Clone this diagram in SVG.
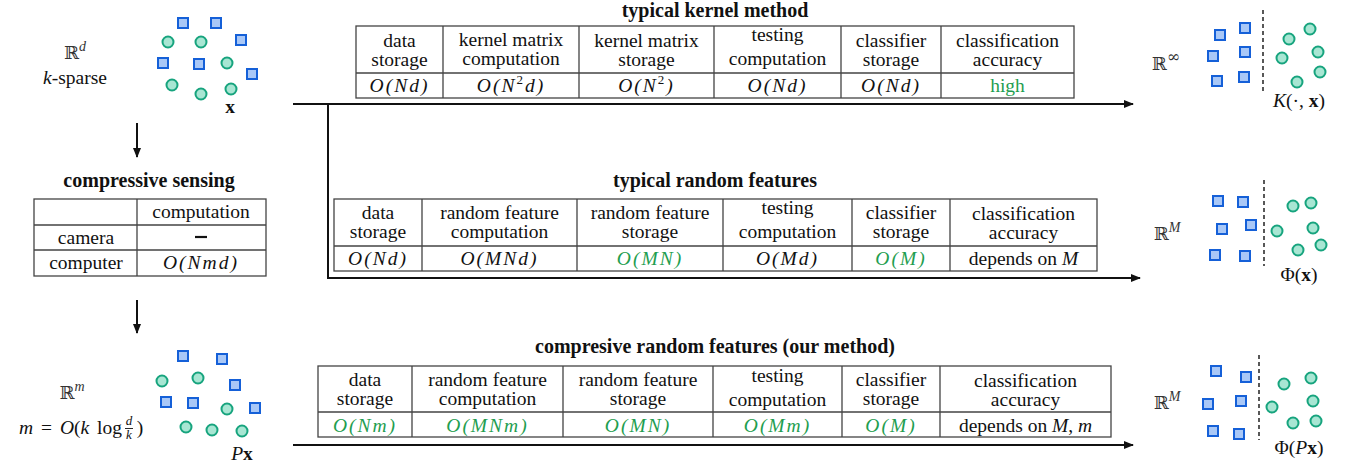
<svg xmlns="http://www.w3.org/2000/svg" width="1347" height="465" viewBox="0 0 1347 465">
<style>
text{font-family:"Liberation Serif","DejaVu Serif",serif;font-size:19.5px;fill:#111;text-anchor:middle}
.t{font-weight:bold;font-size:20px}
.m{font-style:italic;letter-spacing:2px}
.g{fill:#1f9e50}
.bb{font-family:"DejaVu Serif",serif;font-size:18px;fill:#333}
.sup{font-family:"Liberation Serif",serif;font-style:italic;font-size:14px}
.fr{font-size:13px;font-style:italic}
.grid{fill:none;stroke:#444;stroke-width:1.3}
.sq{fill:#a9c8f7;stroke:#1560d8;stroke-width:2}
.ci{fill:#a8e6d3;stroke:#17a47e;stroke-width:2}
.dash{stroke:#222;stroke-width:1.5;stroke-dasharray:4,3}
.ar{stroke:#111;stroke-width:2;fill:none}
</style>
<defs>
<marker id="ah" markerWidth="10" markerHeight="8" refX="9" refY="4" orient="auto" markerUnits="userSpaceOnUse">
<path d="M0,0 L10,4 L0,8 Z" fill="#111"/>
</marker>
<rect id="s" x="-5" y="-5" width="10" height="10" class="sq"/>
<circle id="c" r="5.5" class="ci"/>
</defs>

<g id="connectors">
<path class="ar" d="M293,104 H1133" marker-end="url(#ah)"/>
<path class="ar" d="M328,104 V278 H1140" marker-end="url(#ah)"/>
<path class="ar" d="M293,445 H1133" marker-end="url(#ah)"/>
<path class="ar" stroke-width="1.5" d="M137,123 V157" marker-end="url(#ah)"/>
<path class="ar" stroke-width="1.5" d="M137,300 V333" marker-end="url(#ah)"/>
</g>

<g id="input-space">
<text class="bb" x="75" y="59">ℝ<tspan class="sup" dy="-8">d</tspan></text>
<text x="75" y="84"><tspan font-style="italic">k</tspan>-sparse</text>
<use href="#s" x="183" y="23"/><use href="#s" x="216" y="23"/><use href="#s" x="241" y="40"/>
<use href="#s" x="163" y="63"/><use href="#s" x="199" y="64"/><use href="#s" x="252" y="74"/>
<use href="#c" x="168" y="42"/><use href="#c" x="201" y="42"/><use href="#c" x="227" y="63"/>
<use href="#c" x="172" y="85"/><use href="#c" x="201" y="94"/><use href="#c" x="231" y="89"/>
<text x="230" y="113" font-weight="bold">x</text>
</g>

<g id="compressive-sensing">
<text class="t" x="149" y="187">compressive sensing</text>
<rect class="grid" x="34" y="199" width="232" height="77"/>
<path class="grid" d="M137,199 V276 M34,225 H266 M34,250 H266"/>
<text x="201" y="218">computation</text>
<text x="86" y="244">camera</text>
<path d="M195,237 H207" stroke="#111" stroke-width="2.2"/>
<text x="86" y="269">computer</text>
<text x="201" y="269" class="m">O(Nmd)</text>
</g>

<g id="compressed-space">
<text class="bb" x="72" y="399">ℝ<tspan class="sup" dy="-8">m</tspan></text>
<text x="122" y="434" style="text-anchor:end;word-spacing:3px"><tspan font-style="italic">m</tspan> = <tspan font-style="italic">O</tspan>(<tspan font-style="italic">k</tspan> log</text>
<text class="fr" x="129" y="425">d<tspan x="129" dy="14">k</tspan></text>
<path d="M125,428.5 H133" stroke="#111" stroke-width="0.9"/>
<text x="140" y="434">)</text>
<use href="#s" x="183" y="356"/><use href="#s" x="222" y="359"/><use href="#s" x="235" y="385"/>
<use href="#s" x="166" y="402"/><use href="#s" x="193" y="403"/><use href="#s" x="255" y="408"/>
<use href="#c" x="162" y="381"/><use href="#c" x="198" y="378"/><use href="#c" x="227" y="409"/>
<use href="#c" x="186" y="427"/><use href="#c" x="212" y="430"/><use href="#c" x="242" y="431"/>
<text x="242" y="460"><tspan font-style="italic">P</tspan><tspan font-weight="bold">x</tspan></text>
</g>

<g id="kernel-table">
<text class="t" x="715" y="17">typical kernel method</text>
<rect class="grid" x="356" y="26" width="718" height="72"/>
<path class="grid" d="M356,73 H1074 M443,26 V98 M579,26 V98 M714,26 V98 M841,26 V98 M941,26 V98"/>
<text x="399.5" y="47">data<tspan x="399.5" dy="19">storage</tspan></text>
<text x="511" y="46">kernel matrix<tspan x="511" dy="19">computation</tspan></text>
<text x="646.5" y="47">kernel matrix<tspan x="646.5" dy="19">storage</tspan></text>
<text x="777.5" y="41">testing<tspan x="777.5" dy="24">computation</tspan></text>
<text x="891" y="47">classifier<tspan x="891" dy="19">storage</tspan></text>
<text x="1007.5" y="47">classification<tspan x="1007.5" dy="19">accuracy</tspan></text>
<text class="m" x="399.5" y="92">O(Nd)</text>
<text class="m" x="511" y="92">O(N<tspan font-size="13" dy="-8" font-style="normal">2</tspan><tspan dy="8">d)</tspan></text>
<text class="m" x="646.5" y="92">O(N<tspan font-size="13" dy="-8" font-style="normal">2</tspan><tspan dy="8">)</tspan></text>
<text class="m" x="777.5" y="92">O(Nd)</text>
<text class="m" x="891" y="92">O(Nd)</text>
<text class="g" x="1007.5" y="92">high</text>
</g>

<g id="rf-table">
<text class="t" x="715" y="187">typical random features</text>
<rect class="grid" x="334" y="199" width="763" height="72"/>
<path class="grid" d="M334,246 H1097 M422,199 V271 M577,199 V271 M723,199 V271 M852,199 V271 M950,199 V271"/>
<text x="378" y="219">data<tspan x="378" dy="19">storage</tspan></text>
<text x="499.5" y="219">random feature<tspan x="499.5" dy="19">computation</tspan></text>
<text x="650" y="219">random feature<tspan x="650" dy="19">storage</tspan></text>
<text x="787.5" y="214">testing<tspan x="787.5" dy="24">computation</tspan></text>
<text x="901" y="219">classifier<tspan x="901" dy="19">storage</tspan></text>
<text x="1023.5" y="220">classification<tspan x="1023.5" dy="19">accuracy</tspan></text>
<text class="m" x="378" y="265">O(Nd)</text>
<text class="m" x="499.5" y="265">O(MNd)</text>
<text class="m g" x="650" y="265">O(MN)</text>
<text class="m" x="787.5" y="265">O(Md)</text>
<text class="m g" x="901" y="265">O(M)</text>
<text x="1023.5" y="265">depends on <tspan font-style="italic">M</tspan></text>
</g>

<g id="crf-table">
<text class="t" x="715" y="353">compresive random features (our method)</text>
<rect class="grid" x="318" y="366" width="793" height="71"/>
<path class="grid" d="M318,412 H1111 M412,366 V437 M563,366 V437 M713,366 V437 M842,366 V437 M940,366 V437"/>
<text x="365" y="386">data<tspan x="365" dy="19">storage</tspan></text>
<text x="487.5" y="386">random feature<tspan x="487.5" dy="19">computation</tspan></text>
<text x="638" y="386">random feature<tspan x="638" dy="19">storage</tspan></text>
<text x="777.5" y="382">testing<tspan x="777.5" dy="24">computation</tspan></text>
<text x="891" y="386">classifier<tspan x="891" dy="19">storage</tspan></text>
<text x="1025.5" y="387">classification<tspan x="1025.5" dy="19">accuracy</tspan></text>
<text class="m g" x="365" y="432">O(Nm)</text>
<text class="m g" x="487.5" y="432">O(MNm)</text>
<text class="m g" x="638" y="432">O(MN)</text>
<text class="m g" x="777.5" y="432">O(Mm)</text>
<text class="m g" x="891" y="432">O(M)</text>
<text x="1025.5" y="432">depends on <tspan font-style="italic">M</tspan>, <tspan font-style="italic">m</tspan></text>
</g>

<g id="kernel-space">
<text class="bb" x="1166" y="70">ℝ<tspan font-size="16" dy="-8">∞</tspan></text>
<path class="dash" d="M1263,10 V92"/>
<use href="#s" x="1220" y="35"/><use href="#s" x="1245" y="28"/><use href="#s" x="1213" y="56"/>
<use href="#s" x="1245" y="52"/><use href="#s" x="1217" y="81"/><use href="#s" x="1244" y="77"/>
<use href="#c" x="1289" y="39"/><use href="#c" x="1310" y="29"/><use href="#c" x="1282" y="58"/>
<use href="#c" x="1318" y="52"/><use href="#c" x="1320" y="72"/><use href="#c" x="1297" y="82"/>
<text x="1299" y="107"><tspan font-style="italic">K</tspan>(·, <tspan font-weight="bold">x</tspan>)</text>
</g>

<g id="rf-space">
<text class="bb" x="1167" y="240">ℝ<tspan class="sup" dy="-8">M</tspan></text>
<path class="dash" d="M1264,180 V266"/>
<use href="#s" x="1218" y="201"/><use href="#s" x="1243" y="202"/><use href="#s" x="1222" y="229"/>
<use href="#s" x="1251" y="225"/><use href="#s" x="1215" y="255"/><use href="#s" x="1245" y="256"/>
<use href="#c" x="1293" y="206"/><use href="#c" x="1311" y="203"/><use href="#c" x="1277" y="231"/>
<use href="#c" x="1313" y="228"/><use href="#c" x="1298" y="250"/><use href="#c" x="1321" y="245"/>
<text x="1299" y="281">Φ(<tspan font-weight="bold">x</tspan>)</text>
</g>

<g id="crf-space">
<text class="bb" x="1167" y="409">ℝ<tspan class="sup" dy="-8">M</tspan></text>
<path class="dash" d="M1259,355 V440"/>
<use href="#s" x="1216" y="371"/><use href="#s" x="1246" y="377"/><use href="#s" x="1208" y="404"/>
<use href="#s" x="1241" y="401"/><use href="#s" x="1213" y="431"/><use href="#s" x="1239" y="434"/>
<use href="#c" x="1284" y="384"/><use href="#c" x="1311" y="378"/><use href="#c" x="1272" y="407"/>
<use href="#c" x="1313" y="401"/><use href="#c" x="1293" y="423"/><use href="#c" x="1316" y="421"/>
<text x="1299" y="454">Φ(<tspan font-style="italic">P</tspan><tspan font-weight="bold">x</tspan>)</text>
</g>
</svg>
